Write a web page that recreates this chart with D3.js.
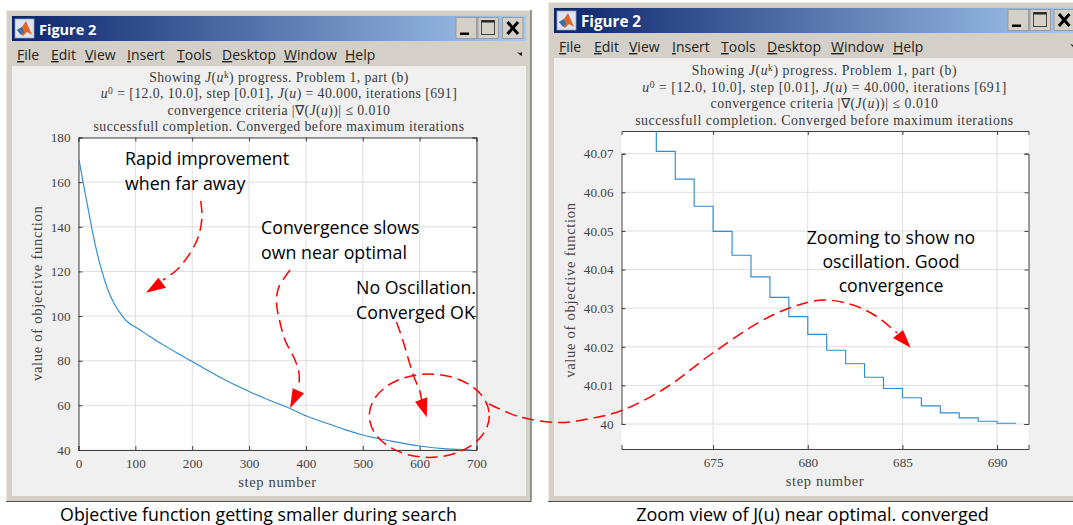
<!DOCTYPE html>
<html><head><meta charset="utf-8">
<style>
html,body{margin:0;padding:0;background:#fff;overflow:hidden}
svg{display:block}
.cm{font-family:"Liberation Serif",serif}
.ann{font-family:"Open Sans","Noto Sans",sans-serif;fill:#000}
.menu{font-family:"Open Sans","Noto Sans",sans-serif;font-size:14px;fill:#222}
</style>
<script src="https://cdnjs.cloudflare.com/ajax/libs/d3/7.8.5/d3.min.js"></script>
</head><body><svg id="c" width="1073" height="525"></svg>
<script>
// ---- data ----
const fullSteps  = [1,8,17,27,39,52,64,78,88,100,125,149,175,200,225,249,275,302,337,372,401,442,470,500,550,600,647,691];
const fullValues = [170,160,148,134.8,122,111.6,105,99.8,97,95.1,91,87.1,83.2,79.6,76,72.6,69.2,66,62.2,58.6,55.2,51.5,49,46.7,44,41.8,40.5,40];
const zoomSteps  = [672,673,674,675,676,677,678,679,680,681,682,683,684,685,686,687,688,689,690,691];
const zoomValues = [40.0706,40.0634,40.0564,40.0499,40.0437,40.0381,40.0328,40.0278,40.0232,40.0191,40.0156,40.0121,40.0092,40.0068,40.0047,40.0029,40.0016,40.0007,40.0002,40.0002];
const fullXTicks = [0,100,200,300,400,500,600,700];
const fullYTicks = [40,60,80,100,120,140,160,180];
const zoomXTicks = [675,680,685,690];
const zoomYTicks = [40,40.01,40.02,40.03,40.04,40.05,40.06,40.07];
const menuItems  = ["File","Edit","View","Insert","Tools","Desktop","Window","Help"];
const xLabel = "step number", yLabel = "value of objective function";

const svg = d3.select("#c");
const defs = svg.append("defs");
const grad = defs.append("linearGradient").attr("id","tb");
grad.append("stop").attr("offset","0").attr("stop-color","#0a246a");
grad.append("stop").attr("offset","1").attr("stop-color","#a6caf0");

function chrome(o){
  const g = svg.append("g");
  g.append("rect").attr("x",o.x0).attr("y",o.y0).attr("width",o.x1-o.x0).attr("height",502-o.y0).attr("fill","#d4d0c8");
  g.append("path").attr("d",`M${o.x0+.5} 502V${o.y0+.5}H${o.x1}`).attr("fill","none").attr("stroke","#efece6");
  g.append("path").attr("d",`M${o.x0} 501.5H${o.x1-.5}V${o.y0}`).attr("fill","none").attr("stroke","#505050");
  g.append("rect").attr("x",o.x0+6).attr("y",o.y0+6).attr("width",o.cr-o.x0-6).attr("height",25).attr("fill","url(#tb)");
  g.append("rect").attr("x",o.x0+6).attr("y",o.y0+56).attr("width",o.cr-o.x0-6).attr("height",496-o.y0-56).attr("fill","#f0f0f0");
  // MATLAB icon
  const ix=o.x0+9, iy=o.y0+9;
  g.append("rect").attr("x",ix).attr("y",iy).attr("width",19).attr("height",19).attr("fill","#dfe4ee").attr("stroke","#8fa3c4").attr("stroke-width",.8);
  g.append("path").attr("d",`M${ix+2} ${iy+11}L${ix+7} ${iy+8}L${ix+11} ${iy+2}L${ix+17} ${iy+16}L${ix+12} ${iy+13}L${ix+8} ${iy+17}Z`).attr("fill","#e0662a");
  g.append("path").attr("d",`M${ix+2} ${iy+11}L${ix+7} ${iy+8}L${ix+9} ${iy+13}L${ix+6} ${iy+16}Z`).attr("fill","#3a6fb0");
  g.append("text").attr("x",o.x0+33).attr("y",o.y0+25).attr("font-family","'Open Sans',sans-serif").attr("font-weight",700).attr("font-size",o.fs).attr("fill","#fff").text("Figure 2");
  // buttons
  o.btn.forEach((bx,i)=>{
    const by=o.y0+7.5;
    g.append("rect").attr("x",bx).attr("y",by).attr("width",20.5).attr("height",21).attr("fill","#d4d0c8").attr("stroke","#8a8a8a").attr("stroke-width",.7);
    if(i===0) g.append("rect").attr("x",bx+4).attr("y",by+15).attr("width",9).attr("height",2.5).attr("fill","#000");
    if(i===1){ g.append("rect").attr("x",bx+3.5).attr("y",by+3).attr("width",13).attr("height",14).attr("fill","none").attr("stroke","#444").attr("stroke-width",1);
               g.append("rect").attr("x",bx+3.5).attr("y",by+3).attr("width",13).attr("height",2).attr("fill","#222"); }
    if(i===2) g.append("path").attr("d",`M${bx+5} ${by+4.5}L${bx+15.5} ${by+16.5}M${bx+15.5} ${by+4.5}L${bx+5} ${by+16.5}`).attr("stroke","#000").attr("stroke-width",3);
  });
  // menu
  menuItems.forEach((m,i)=>{
    const t=g.append("text").attr("class","menu").attr("x",o.menu[i]).attr("y",o.y0+50);
    t.append("tspan").attr("text-decoration","underline").text(m[0]);
    t.append("tspan").text(m.slice(1));
  });
  g.append("path").attr("d",`M${o.mk} ${o.y0+42}l3 1l2 -1l0 4l-2 -1z`).attr("fill","#222");
  // title
  const tx=g.append("g").attr("class","cm").attr("font-size",13.8).attr("letter-spacing",o.ls).attr("fill","#3a3a3a").attr("text-anchor","middle");
  const lines=[
    [["Showing "],["J","i"],["("],["u","i"],["k","s"],[")"],[" progress. Problem 1, part (b)"]],
    [["u","i"],["0","s"],[" = [12.0, 10.0], step [0.01], "],["J","i"],["("],["u","i"],[") = 40.000, iterations [691]"]],
    [["convergence criteria |∇("],["J","i"],["("],["u","i"],["))| ≤ 0.010"]],
    [["successfull completion. Converged before maximum iterations"]]
  ];
  lines.forEach((ln,i)=>{
    const t=tx.append("text").attr("x",o.tcx).attr("y",o.tb[i]);
    ln.forEach(([s,k],j)=>{
      const ts=t.append("tspan").text(s);
      if(k==="i") ts.attr("font-style","italic");
      if(k==="s"){ ts.attr("dy",-4).attr("font-size",9.5); }
      else if(j>0 && ln[j-1][1]==="s") ts.attr("dy",4);
    });
  });
}

function axesFrame(b,x,y,xt,yt,xf,yf){
  const g=svg.append("g");
  g.append("rect").attr("x",b.l).attr("y",b.t).attr("width",b.r-b.l).attr("height",b.b-b.t).attr("fill","#fff");
  g.append("g").selectAll("line").data(xt).join("line").attr("x1",d=>x(d)).attr("x2",d=>x(d)).attr("y1",b.t).attr("y2",b.b).attr("stroke","#dedede");
  g.append("g").selectAll("line").data(yt).join("line").attr("y1",d=>y(d)).attr("y2",d=>y(d)).attr("x1",b.l).attr("x2",b.r).attr("stroke","#dedede");
  const style=s=>{s.selectAll("text").attr("class","cm").attr("font-size",13.2).attr("fill","#444");s.selectAll("line,path").attr("stroke","#404040");};
  g.append("g").attr("transform",`translate(0,${b.b})`).call(d3.axisBottom(x).tickValues(xt).tickFormat(xf).tickSize(-4).tickPadding(9)).call(style);
  g.append("g").attr("transform",`translate(${b.l},0)`).call(d3.axisLeft(y).tickValues(yt).tickFormat(yf).tickSize(-4).tickPadding(8)).call(style);
  g.append("g").attr("transform",`translate(0,${b.t})`).call(d3.axisTop(x).tickValues(xt).tickFormat("").tickSize(-4)).call(style);
  g.append("g").attr("transform",`translate(${b.r},0)`).call(d3.axisRight(y).tickValues(yt).tickFormat("").tickSize(-4)).call(style);
  g.append("text").attr("class","cm").attr("x",(b.l+b.r)/2).attr("y",b.b+36.5).attr("text-anchor","middle").attr("font-size",14.6).attr("letter-spacing",.6).attr("fill","#444").text(xLabel);
  g.append("text").attr("class","cm").attr("transform",`translate(${b.l-b.yl},${(b.t+b.b)/2+b.yo}) rotate(-90)`).attr("text-anchor","middle").attr("font-size",14.6).attr("letter-spacing",.7).attr("fill","#444").text(yLabel);
}

chrome({x0:6,y0:10,x1:531.5,cr:526,btn:[456,478,502.5],menu:[17,51,85,127,177,222,284,345],tcx:279,tb:[82,98,115,131],mk:517,ls:.42,fs:14.5});
chrome({x0:548,y0:2,x1:1080,cr:1080,btn:[1008,1030,1054],menu:[559,594,629,672,721,767,831,893],tcx:824.5,tb:[75,92,108,125],mk:1070,ls:.55,fs:15.2});

// left plot
const bL={l:78.5,r:476.5,t:137.5,b:450,yl:36.5,yo:-0.5};
const xL=d3.scaleLinear().domain([0,700]).range([bL.l,bL.r]);
const yL=d3.scaleLinear().domain([40,180]).range([bL.b,bL.t]);
axesFrame(bL,xL,yL,fullXTicks,fullYTicks,d3.format("d"),d3.format("d"));
svg.append("path").datum(d3.zip(fullSteps,fullValues)).attr("fill","none").attr("stroke","#2f8cd2").attr("stroke-width",1.15)
  .attr("d",d3.line().x(d=>xL(d[0])).y(d=>yL(d[1])).curve(d3.curveMonotoneX));

// right plot
const bR={l:621.5,r:1028.5,t:131,b:449,yl:47,yo:0};
const xR=d3.scaleLinear().domain([670.16,691.66]).range([bR.l,bR.r]);
const yR=d3.scaleLinear().domain([40,40.07]).range([424,153.7]);
svg.append("clipPath").attr("id","cr").append("rect").attr("x",bR.l).attr("y",bR.t).attr("width",bR.r-bR.l).attr("height",bR.b-bR.t);
axesFrame(bR,xR,yR,zoomXTicks,zoomYTicks,d3.format("d"),d=>d===40?"40":d3.format(".2f")(d));
const stairPts=[[zoomSteps[0],40.09]].concat(d3.zip(zoomSteps,zoomValues));
svg.append("path").datum(stairPts).attr("clip-path","url(#cr)").attr("fill","none").attr("stroke","#2f8cd2").attr("stroke-width",1.15)
  .attr("d",d3.line().x(d=>xR(d[0])).y(d=>yR(d[1])).curve(d3.curveStepAfter));

// annotation overlay (pixel space of the page)
const red="#f00";
const arrowPaths=[
  {p:[[200.7,201],[202,216.7],[198.3,236.7],[190,253.3],[176.7,270],[163,280]],h:[[146,292.7],[158.3,277.7],[166,287.7]]},
  {p:[[290,270],[278.5,288],[276.5,303],[279,318],[285,340],[295,360],[299,373],[299,386]],h:[[290,408.3],[292.7,388.3],[304,393.3]]},
  {p:[[396.5,322],[402.7,340],[413.3,375],[420,391.7],[421.7,400]],h:[[426.7,417.3],[415,401.7],[427.3,397.3]]},
  {p:[[489,404],[520,417],[560,422.5],[593,418],[623,410],[667,387],[710,355],[760,321.7],[793,306.7],[823,300],[853,305],[877,316.7],[897,333]],h:[[910.7,347.7],[893,338],[903,330]]}
];
const spline=d3.line().curve(d3.curveCatmullRom.alpha(.5));
const ann=svg.append("g");
ann.selectAll(".ar").data(arrowPaths).join("path").attr("fill","none").attr("stroke",red).attr("stroke-width",1.5).attr("stroke-dasharray","12 6").attr("d",d=>spline(d.p));
ann.selectAll(".hd").data(arrowPaths).join("path").attr("fill",red).attr("d",d=>d3.line()(d.h)+"Z");
ann.append("ellipse").attr("cx",429.3).attr("cy",415.7).attr("rx",60).attr("ry",41.7).attr("fill","none").attr("stroke",red).attr("stroke-width",1.5).attr("stroke-dasharray","12 6");

const notes=[
  ["Rapid improvement",125,165,"start",17.8],["when far away",125,190,"start",17.8],
  ["Convergence slows",261,234,"start",17.8],["own near optimal",261,259,"start",17.8],
  ["No Oscillation.",356,294,"start",17.8],["Converged OK",356,319,"start",17.8],
  ["Zooming to show no",891,244,"middle",17.7],["oscillation. Good",891,268,"middle",17.7],["convergence",891,292,"middle",17.7],
  ["Objective function getting smaller during search",258.5,521,"middle",17.8],
  ["Zoom view of J(u) near optimal. converged",812.5,521,"middle",18]
];
ann.selectAll("text").data(notes).join("text").attr("class","ann").attr("x",d=>d[1]).attr("y",d=>d[2]).attr("text-anchor",d=>d[3]).attr("font-size",d=>d[4]).text(d=>d[0]);
</script></body></html>
